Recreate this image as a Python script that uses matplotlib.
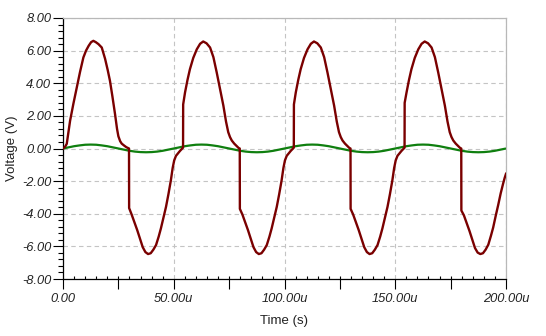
import matplotlib
matplotlib.use("Agg")
import matplotlib.pyplot as plt
from matplotlib.ticker import FixedLocator, MultipleLocator, FuncFormatter

# ---------------- data ----------------
# time in microseconds, voltage in volts
red_t = [
    0.0, 1.0, 1.7, 2.4, 3.2, 4.7, 6.2, 7.7, 9.2, 10.4, 11.6, 12.7, 13.7, 14.8, 16.0, 17.5,
    19.0, 20.2, 21.2, 22.3, 23.5, 24.4, 25.0, 25.8, 26.5, 27.6, 28.6, 29.5, 29.8,
    29.85, 31.0, 32.2, 33.5, 34.8, 36.0, 37.2, 38.4, 39.6, 40.8, 42.0, 43.2, 44.2, 45.4,
    46.5, 47.6, 48.7, 49.5, 50.2, 51.0, 51.7, 52.8, 53.7, 54.2,
    54.25, 55.1, 56.2, 57.3, 58.8, 60.4, 61.9, 63.3, 64.8, 66.4, 67.9, 69.4, 70.9, 72.4,
    73.6, 74.6, 75.4, 76.2, 77.3, 78.4, 79.3, 79.8,
    79.85, 81.0, 82.2, 83.5, 84.8, 86.0, 87.2, 88.4, 89.6, 90.8, 92.0, 93.2, 94.2, 95.4,
    96.5, 97.6, 98.7, 99.5, 100.2, 101.0, 101.7, 102.8, 103.7, 104.2,
    104.25, 105.1, 106.2, 107.3, 108.8, 110.4, 111.9, 113.3, 114.8, 116.4, 117.9, 119.4,
    120.9, 122.4, 123.6, 124.6, 125.4, 126.2, 127.3, 128.4, 129.3, 129.8,
    129.85, 131.0, 132.2, 133.5, 134.8, 136.0, 137.2, 138.4, 139.6, 140.8, 142.0, 143.2,
    144.2, 145.4, 146.5, 147.6, 148.7, 149.5, 150.2, 151.0, 151.7, 152.8, 153.7, 154.2,
    154.25, 155.1, 156.2, 157.3, 158.8, 160.4, 161.9, 163.3, 164.8, 166.4, 167.9, 169.4,
    170.9, 172.4, 173.6, 174.6, 175.4, 176.2, 177.3, 178.4, 179.3, 179.8,
    179.85, 181.0, 182.2, 183.5, 184.8, 186.0, 187.2, 188.4, 189.6, 190.8, 192.0, 193.2,
    194.2, 195.4, 196.5, 197.6, 198.7, 199.4, 200.0,
]
red_v = [
    0.00, 0.12, 0.29, 0.95, 1.70, 2.75, 3.74, 4.70, 5.58, 6.00, 6.30, 6.52, 6.60, 6.52, 6.40, 6.19,
    5.50, 4.80, 4.15, 3.20, 2.10, 1.20, 0.75, 0.45, 0.30, 0.18, 0.08, 0.02, 0.00,
    -3.65, -4.05, -4.50, -5.00, -5.55, -6.05, -6.35, -6.47, -6.42, -6.20, -5.92, -5.40, -4.90, -4.20,
    -3.58, -2.80, -1.95, -1.20, -0.73, -0.45, -0.33, -0.15, -0.02, 0.05,
    2.70, 3.44, 4.20, 4.86, 5.55, 6.08, 6.42, 6.56, 6.45, 6.19, 5.60, 4.66, 3.65, 2.63,
    1.65, 1.00, 0.70, 0.49, 0.30, 0.15, 0.03, 0.00,
    -3.70, -4.05, -4.50, -5.00, -5.55, -6.05, -6.35, -6.47, -6.42, -6.20, -5.92, -5.40, -4.90, -4.20,
    -3.58, -2.80, -1.95, -1.20, -0.73, -0.45, -0.33, -0.15, -0.02, 0.05,
    2.70, 3.44, 4.20, 4.86, 5.55, 6.08, 6.42, 6.56, 6.45, 6.19, 5.60, 4.66,
    3.65, 2.63, 1.65, 1.00, 0.70, 0.49, 0.30, 0.15, 0.03, 0.00,
    -3.70, -4.05, -4.50, -5.00, -5.55, -6.05, -6.35, -6.47, -6.42, -6.20, -5.92, -5.40,
    -4.90, -4.20, -3.58, -2.80, -1.95, -1.20, -0.73, -0.45, -0.33, -0.15, -0.02, 0.05,
    2.80, 3.44, 4.20, 4.86, 5.55, 6.08, 6.42, 6.56, 6.45, 6.19, 5.60, 4.66,
    3.65, 2.63, 1.65, 1.00, 0.70, 0.49, 0.30, 0.15, 0.03, 0.00,
    -3.80, -4.10, -4.55, -5.05, -5.60, -6.10, -6.38, -6.47, -6.42, -6.20, -5.90, -5.35,
    -4.85, -4.10, -3.45, -2.75, -2.15, -1.80, -1.55,
]

green_t = [i * 2.5 for i in range(81)]
green_v = [
    0.00, 0.07, 0.14, 0.19, 0.23, 0.24, 0.23, 0.19, 0.14, 0.07,
    0.00, -0.07, -0.14, -0.19, -0.22, -0.23, -0.22, -0.19, -0.14, -0.07,
    0.00, 0.07, 0.14, 0.19, 0.23, 0.24, 0.23, 0.19, 0.14, 0.07,
    0.00, -0.07, -0.14, -0.19, -0.22, -0.23, -0.22, -0.19, -0.14, -0.07,
    0.00, 0.07, 0.14, 0.19, 0.23, 0.24, 0.23, 0.19, 0.14, 0.07,
    0.00, -0.07, -0.14, -0.19, -0.22, -0.23, -0.22, -0.19, -0.14, -0.07,
    0.00, 0.07, 0.14, 0.19, 0.23, 0.24, 0.23, 0.19, 0.14, 0.07,
    0.00, -0.07, -0.14, -0.19, -0.22, -0.23, -0.22, -0.19, -0.14, -0.07,
    0.00,
]

x_ticks = [0, 50, 100, 150, 200]
x_mid_ticks = [25, 75, 125, 175]
y_ticks = [-8, -6, -4, -2, 0, 2, 4, 6, 8]
x_label = "Time (s)"
y_label = "Voltage (V)"

# ---------------- style ----------------
FONT = "Liberation Sans"
RED = "#7a0000"
GREEN = "#0f7f0f"
GRID = "#c4c4c4"

fig = plt.figure(figsize=(5.46, 3.36), dpi=100)
ax = fig.add_axes([63 / 546, 1 - 279 / 336, (506 - 63) / 546, (279 - 18) / 336])

ax.plot(green_t, green_v, color=GREEN, lw=1.6, zorder=3, solid_capstyle="butt")
ax.plot(red_t, red_v, color=RED, lw=1.7, zorder=4, solid_joinstyle="round")

ax.set_xlim(0, 200)
ax.set_ylim(-8, 8)

ax.xaxis.set_major_locator(FixedLocator(x_ticks))
ax.xaxis.set_minor_locator(MultipleLocator(5))
ax.yaxis.set_major_locator(FixedLocator(y_ticks))
ax.yaxis.set_minor_locator(MultipleLocator(0.4))

ax.xaxis.set_major_formatter(FuncFormatter(lambda v, p: "0.00" if v == 0 else f"{v:.2f}u"))
ax.yaxis.set_major_formatter(FuncFormatter(lambda v, p: f"{v:.2f}" if abs(v) > 1e-9 else "0.00"))

ax.tick_params(axis="x", which="major", direction="out", length=7, width=0.8,
               pad=3, color="black")
ax.tick_params(axis="x", which="minor", direction="in", length=2, width=0.8, color="black")
ax.tick_params(axis="y", which="major", direction="out", length=7.5, width=0.8,
               pad=1, color="black")
ax.tick_params(axis="y", which="minor", direction="out", length=3.5, width=0.8, color="black")

for lab in ax.get_xticklabels() + ax.get_yticklabels():
    lab.set_fontfamily(FONT)
    lab.set_fontstyle("italic")
    lab.set_fontsize(9.3)
    lab.set_color("#222222")

# mid ticks at 25-multiples (longer, no label)
sec = ax.secondary_xaxis("bottom")
sec.set_xticks(x_mid_ticks)
sec.set_xticklabels([])
sec.tick_params(axis="x", direction="out", length=7, width=0.8, color="black")
sec.spines["bottom"].set_visible(False)

# grid
ax.grid(True, which="major", color=GRID, lw=0.8, linestyle=(0, (4, 3)), zorder=1)
ax.set_axisbelow(True)

for s in ["left", "bottom"]:
    ax.spines[s].set_color("black")
    ax.spines[s].set_linewidth(0.9)
for s in ["top", "right"]:
    ax.spines[s].set_color("#b8b8b8")
    ax.spines[s].set_linewidth(0.9)

ax.set_xlabel(x_label, fontfamily=FONT, fontsize=9.5, labelpad=7, color="#222222")
ax.set_ylabel(y_label, fontfamily=FONT, fontsize=9.5, labelpad=3, color="#222222")

fig.savefig("out.png", dpi=100, facecolor="white")
